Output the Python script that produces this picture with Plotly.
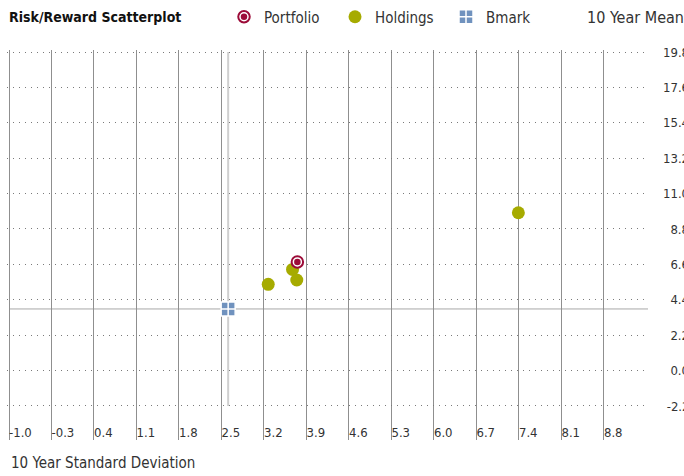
import plotly.graph_objects as go

# Axis ticks
x_ticks = [-1.0, -0.3, 0.4, 1.1, 1.8, 2.5, 3.2, 3.9, 4.6, 5.3, 6.0, 6.7, 7.4, 8.1, 8.8]
y_ticks = [-2.2, 0.0, 2.2, 4.4, 6.6, 8.8, 11.0, 13.2, 15.4, 17.6, 19.8]

# Risk (10 year standard deviation) / reward (10 year mean)
holdings_sd = [3.27, 3.67, 3.74, 7.39]
holdings_mean = [5.36, 6.29, 5.63, 9.81]
portfolio_sd = [3.75]
portfolio_mean = [6.75]
bmark_sd = [2.61]
bmark_mean = [3.83]

FONT = "DejaVu Sans Condensed"
CRIMSON = "#9c0b38"
OLIVE = "#a6ab00"
STEEL = "#7092be"

W, H = 684, 476
# plot area: left 7 .. right 648, top 50 .. bottom 440
M_L, M_R, M_T, M_B = 7, 36, 50, 36
PW, PH = W - M_L - M_R, H - M_T - M_B
X_PX = 60.71   # px per unit of standard deviation
Y_PX = 16.09   # px per unit of mean
LEG_X, LEG_Y = 224 / W, 1 - 17 / H


def pad_label(v):
    s = f"{v:.1f}"
    if v < 0:
        return "\u00a0" + s
    if abs(v) < 10:
        return "\u00a0\u00a0" + s
    return s


fig = go.Figure()

fig.add_trace(go.Scatter(
    x=bmark_sd, y=bmark_mean, mode="markers", name="Bmark", legendrank=3,
    marker=dict(symbol="square-cross", size=14, color=STEEL,
                line=dict(width=1.5, color="white")),
    hoverinfo="skip",
))
fig.add_trace(go.Scatter(
    x=holdings_sd, y=holdings_mean, mode="markers", name="Holdings", legendrank=2,
    marker=dict(symbol="circle", size=13, color=OLIVE, line=dict(width=0)),
    hoverinfo="skip",
))
# portfolio: crimson ring ...
fig.add_trace(go.Scatter(
    x=portfolio_sd, y=portfolio_mean, mode="markers", name="Portfolio", legendrank=1,
    marker=dict(symbol="circle", size=11.5, color="white",
                line=dict(width=2, color=CRIMSON)),
    hoverinfo="skip",
))
# ... with a solid centre dot (its own legend sits over the ring's symbol)
fig.add_trace(go.Scatter(
    x=portfolio_sd, y=portfolio_mean, mode="markers", name=" ", legend="legend2",
    marker=dict(symbol="circle", size=6.5, color=CRIMSON, line=dict(width=0)),
    hoverinfo="skip",
))

# Benchmark crosshair
fig.add_shape(type="line", xref="x", yref="y", layer="below",
              x0=bmark_sd[0], x1=bmark_sd[0], y0=y_ticks[0], y1=y_ticks[-1],
              line=dict(color="#cfcfcf", width=2))
fig.add_shape(type="line", xref="paper", yref="y", layer="below",
              x0=2 / PW, x1=1, y0=bmark_mean[0], y1=bmark_mean[0],
              line=dict(color="#a8a8a8", width=1))

x_lo = x_ticks[0] - 2 / X_PX
x_hi = x_lo + PW / X_PX
y_hi = y_ticks[-1] + 2 / Y_PX
y_lo = y_hi - PH / Y_PX

fig.update_xaxes(
    range=[x_lo, x_hi], automargin=False,
    tickmode="array", tickvals=x_ticks, ticktext=[f"{v:.1f}" for v in x_ticks],
    showgrid=True, gridcolor="#8f8f8f", gridwidth=1,
    zeroline=False, showline=False, ticks="",
    ticklabelposition="inside right", ticklabelstandoff=-6,
    tickfont=dict(family=FONT, size=13, color="#333333"),
)
fig.update_yaxes(
    range=[y_lo, y_hi], side="right", automargin=False,
    tickmode="array", tickvals=y_ticks, ticktext=[pad_label(v) for v in y_ticks],
    showgrid=True, gridcolor="#7a7a7a", gridwidth=1, griddash="1px,5px",
    zeroline=False, showline=False, ticks="",
    ticklabelstandoff=14,
    tickfont=dict(family=FONT, size=13, color="#333333"),
)

fig.add_annotation(
    text="10 Year Mean", xref="paper", yref="paper",
    x=(585 - M_L) / PW, y=1 + (M_T - 17) / PH,
    xanchor="left", yanchor="middle", showarrow=False,
    font=dict(family=FONT, size=16, color="#333333"),
)
fig.add_annotation(
    text="10 Year Standard Deviation", xref="paper", yref="paper",
    x=2 / PW, y=-(463 - (H - M_B)) / PH,
    xanchor="left", yanchor="middle", showarrow=False,
    font=dict(family=FONT, size=15, color="#333333"),
)

legend_common = dict(orientation="h", x=LEG_X, xanchor="left", xref="container",
                     y=LEG_Y, yanchor="middle", yref="container",
                     bgcolor="rgba(0,0,0,0)")

fig.update_layout(
    width=W, height=H,
    margin=dict(l=M_L, r=M_R, t=M_T, b=M_B),
    paper_bgcolor="white", plot_bgcolor="white",
    title=dict(text="<b>Risk/Reward Scatterplot</b>", x=9 / W, xanchor="left",
               y=1 - 17 / H, yanchor="middle",
               font=dict(family=FONT, size=14, color="#111111")),
    legend=dict(**legend_common, entrywidth=66, entrywidthmode="pixels",
                font=dict(family=FONT, size=15, color="#333333")),
    legend2=dict(**legend_common,
                 font=dict(family=FONT, size=15, color="#333333")),
    showlegend=True,
)

fig.write_html("out.html")
